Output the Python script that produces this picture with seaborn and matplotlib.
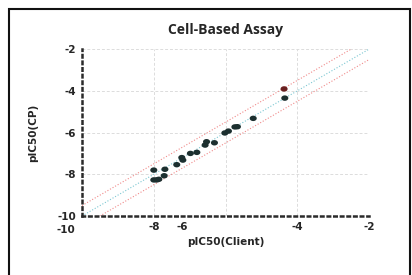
import numpy as np
import pandas as pd
import matplotlib
matplotlib.use('Agg')
import matplotlib.pyplot as plt
import seaborn as sns
from matplotlib.patches import Rectangle

# values
client = [-8.00, -7.92, -7.86, -8.00, -7.69, -7.71, -7.36, -7.22, -7.19, -6.98, -6.80,
          -6.57, -6.53, -6.31, -6.02, -5.92, -5.74, -5.67, -5.23, -4.37, -4.35]
cp = [-8.27, -8.27, -8.24, -7.80, -7.76, -8.07, -7.54, -7.20, -7.32, -7.00, -6.95,
      -6.60, -6.44, -6.49, -6.02, -5.93, -5.73, -5.72, -5.32, -3.91, -4.35]
group = ['in'] * 19 + ['flag', 'in']
ref_line = [-10, -2]
band = 0.5

x_ticks = [-8, -7.22, -6, -4, -2]
x_tick_labels = ['-8', '-6', '', '-4', '-2']
y_ticks = [-10, -8, -6, -4, -2]
y_tick_labels = ['-10', '-8', '-6', '-4', '-2']

df = pd.DataFrame({'client': client, 'cp': cp, 'group': group})

sns.set_style('white')
plt.rcParams['font.family'] = ['DejaVu Sans']

fig = plt.figure(figsize=(4.12, 2.75), dpi=100)
ax = fig.add_axes([0.199, 0.2145, 0.697, 0.607])

# grid
for v in [-8, -6, -4, -2]:
    ax.axvline(v, color='#dcdcdc', lw=0.7, ls=(0, (3, 2)), zorder=0)
    ax.axhline(v, color='#dcdcdc', lw=0.7, ls=(0, (3, 2)), zorder=0)

line = np.array(ref_line, dtype=float)
ax.plot(line, line, color='#7cc7d2', lw=0.8, ls=':', zorder=1)
ax.plot(line, line + band, color='#f08a8a', lw=0.8, ls=':', zorder=1)
ax.plot(line, line - band, color='#f08a8a', lw=0.8, ls=':', zorder=1)

# slightly flattened dots like the original
t = np.linspace(0, 2 * np.pi, 30)
ellipse = np.column_stack([1.3 * np.cos(t), np.sin(t)])

sns.scatterplot(data=df, x='client', y='cp', hue='group',
                palette={'in': '#1c2f2f', 'flag': '#6a2020'},
                marker=ellipse, s=26, edgecolor='none', legend=False, ax=ax, zorder=3)

ax.set_xlim(-10, -2)
ax.set_ylim(-10, -2)
ax.set_xticks(x_ticks)
ax.set_xticklabels(x_tick_labels, fontweight='bold', fontsize=7.5)
ax.set_yticks(y_ticks)
ax.set_yticklabels(y_tick_labels, fontweight='bold', fontsize=7.5)
ax.tick_params(axis='both', length=2, width=0.8, pad=2, color='#333333')
ax.text(-10.45, -10.45, '-10', ha='center', va='top', fontweight='bold', fontsize=7.5)

for s in ['top', 'right']:
    ax.spines[s].set_visible(False)
for s in ['left', 'bottom']:
    ax.spines[s].set_linestyle(':')
    ax.spines[s].set_linewidth(1.8)
    ax.spines[s].set_color('#2a2a2a')

ax.set_xlabel('pIC50(Client)', fontweight='bold', fontsize=7.5, labelpad=4)
ax.set_ylabel('pIC50(CP)', fontweight='bold', fontsize=7.5, labelpad=14)
ax.set_title('Cell-Based Assay', fontweight='bold', fontsize=10,
             family='Open Sans', pad=11)

# outer frame (bottom edge is cut off in the reference)
fig.patches.append(Rectangle((9 / 412, -0.05), 401 / 412, 1 - 9 / 275 + 0.05,
                             transform=fig.transFigure, fill=False,
                             edgecolor='#111111', lw=1.5))

fig.savefig('out.png', dpi=100)
